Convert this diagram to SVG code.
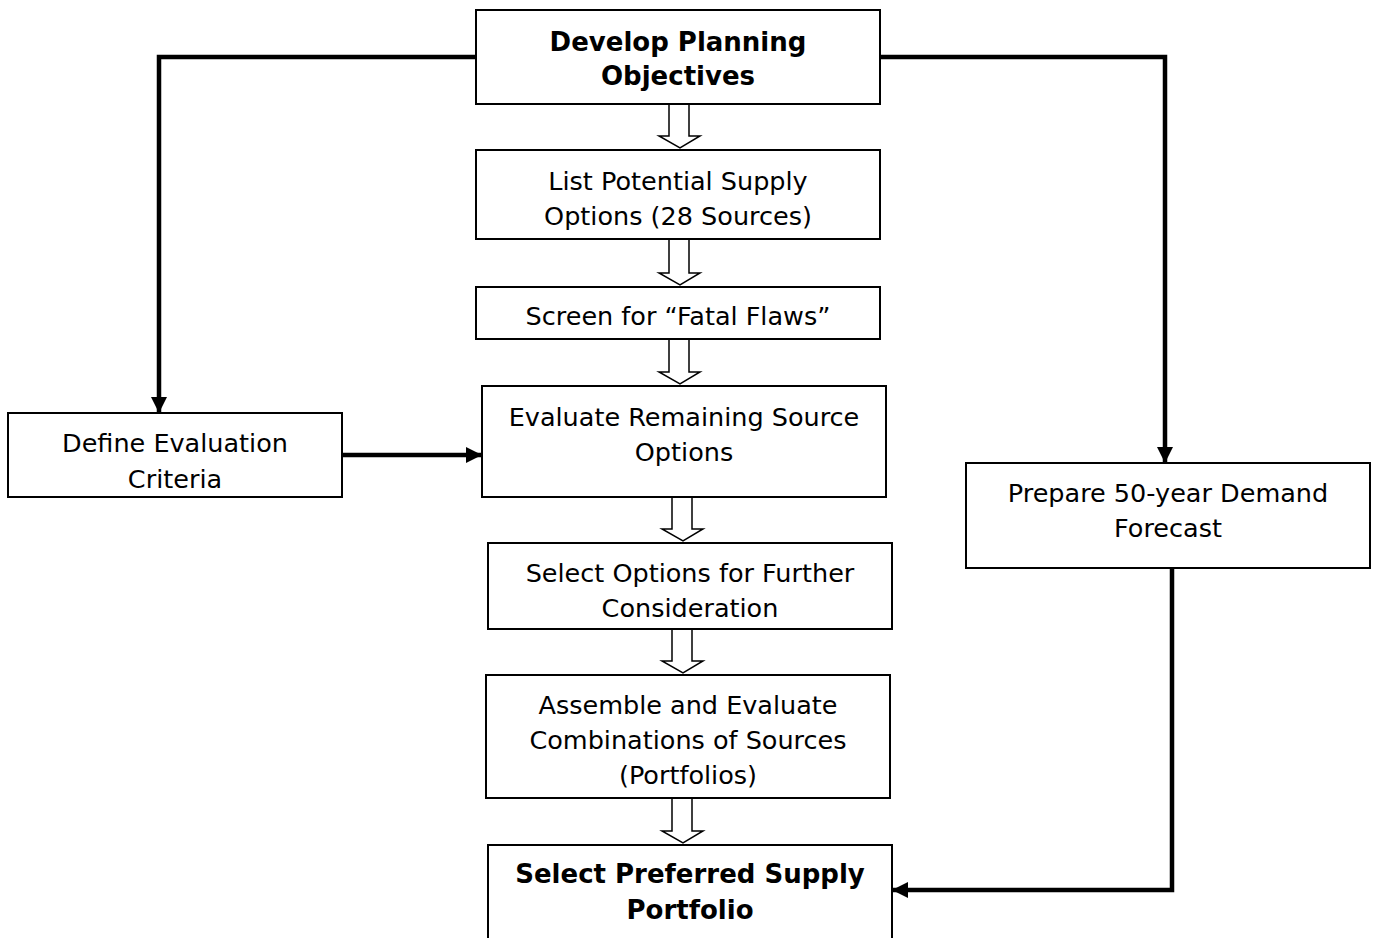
<svg xmlns="http://www.w3.org/2000/svg" width="1375" height="938" viewBox="0 0 1375 938">
<style>
.box{fill:#fff;stroke:#000;stroke-width:2}
.t{font-family:"DejaVu Sans","Liberation Sans",sans-serif;font-size:25.5px;fill:#000;text-anchor:middle}
.b{font-weight:bold;font-size:26px}
.conn{fill:none;stroke:#000;stroke-width:4.5}
.blk{fill:#fff;stroke:#000;stroke-width:1.5}
</style>
<defs>
<marker id="ah" viewBox="0 0 16 16" refX="16" refY="8" markerWidth="16" markerHeight="16" orient="auto" markerUnits="userSpaceOnUse">
<path d="M0,0 L16,8 L0,16 z" fill="#000"/>
</marker>
<clipPath id="cdef"><rect x="8" y="413" width="334" height="75"/></clipPath>
</defs>
<rect width="1375" height="938" fill="#fff"/>
<g id="connectors">
<polyline class="conn" points="476,57 159,57 159,413" marker-end="url(#ah)"/>
<polyline class="conn" points="880,57 1165,57 1165,463" marker-end="url(#ah)"/>
<polyline class="conn" points="342,455 482,455" marker-end="url(#ah)"/>
<polyline class="conn" points="1172,568 1172,890 892,890" marker-end="url(#ah)"/>
<path class="blk" d="M669,104 V136 H659 L680,148 L700,136 H689 V104"/>
<path class="blk" d="M669,239 V273 H659 L680,285 L700,273 H689 V239"/>
<path class="blk" d="M669,339 V372 H659 L680,384 L700,372 H689 V339"/>
<path class="blk" d="M672,497 V529 H662 L683,541 L703,529 H692 V497"/>
<path class="blk" d="M672,629 V661 H662 L683,673 L703,661 H692 V629"/>
<path class="blk" d="M672,798 V831 H662 L683,843 L703,831 H692 V798"/>
</g>
<g id="n1"><rect class="box" x="476" y="10" width="404" height="94"/>
<text class="t b" x="678" y="51">Develop Planning</text><text class="t b" x="678" y="85">Objectives</text></g>
<g id="n2"><rect class="box" x="476" y="150" width="404" height="89"/>
<text class="t" x="678" y="190">List Potential Supply</text><text class="t" x="678" y="225">Options (28 Sources)</text></g>
<g id="n3"><rect class="box" x="476" y="287" width="404" height="52"/>
<text class="t" x="678" y="325">Screen for “Fatal Flaws”</text></g>
<g id="n4"><rect class="box" x="482" y="386" width="404" height="111"/>
<text class="t" x="684" y="426">Evaluate Remaining Source</text><text class="t" x="684" y="461">Options</text></g>
<g id="n5"><rect class="box" x="8" y="413" width="334" height="84"/>
<g clip-path="url(#cdef)"><text class="t" x="175" y="452">Define Evaluation</text><text class="t" x="175" y="488">Criteria</text></g></g>
<g id="n6"><rect class="box" x="966" y="463" width="404" height="105"/>
<text class="t" x="1168" y="502">Prepare 50-year Demand</text><text class="t" x="1168" y="537">Forecast</text></g>
<g id="n7"><rect class="box" x="488" y="543" width="404" height="86"/>
<text class="t" x="690" y="582">Select Options for Further</text><text class="t" x="690" y="617">Consideration</text></g>
<g id="n8"><rect class="box" x="486" y="675" width="404" height="123"/>
<text class="t" x="688" y="714">Assemble and Evaluate</text><text class="t" x="688" y="749">Combinations of Sources</text><text class="t" x="688" y="784">(Portfolios)</text></g>
<g id="n9"><rect class="box" x="488" y="845" width="404" height="100"/>
<text class="t b" x="690" y="883">Select Preferred Supply</text><text class="t b" x="690" y="919">Portfolio</text></g>
</svg>
